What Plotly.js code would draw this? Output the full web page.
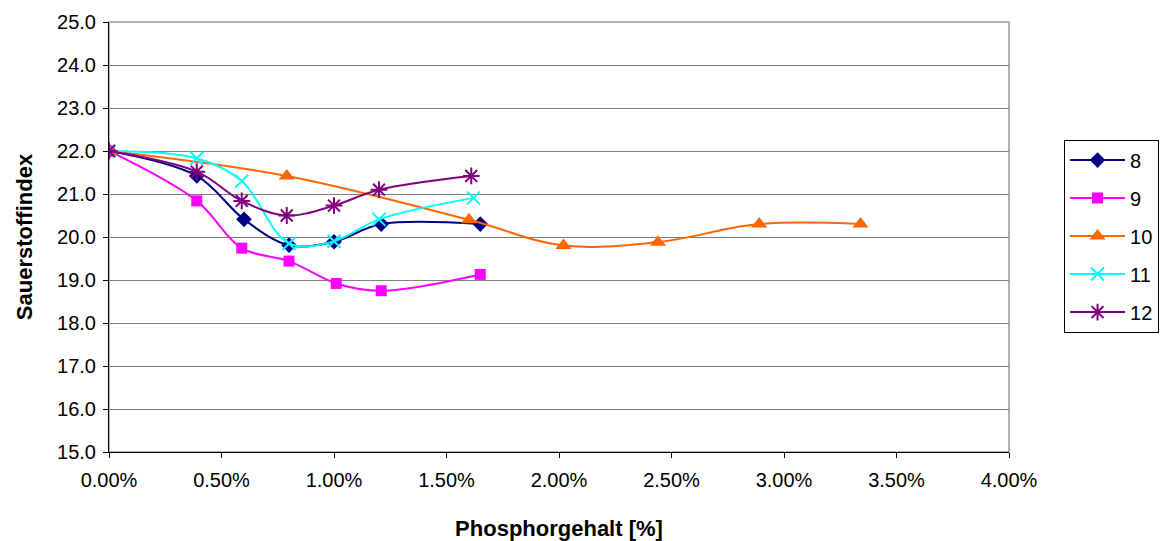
<!DOCTYPE html>
<html>
<head>
<meta charset="utf-8">
<script src="https://cdn.plot.ly/plotly-3.0.1.min.js"></script>
<style>html,body{margin:0;padding:0;background:#fff;}#chart{width:1168px;height:541px;}</style>
</head>
<body>
<div id="chart"></div>
<script>
// Phosphorgehalt [%] and Sauerstoffindex for each series
const seriesNames = ["8", "9", "10", "11", "12"];
const x8  = [0, 0.39, 0.60, 0.80, 1.00, 1.21, 1.65];
const y8  = [22.0, 21.42, 20.41, 19.81, 19.89, 20.30, 20.30];
const x9  = [0, 0.39, 0.59, 0.80, 1.01, 1.21, 1.65];
const y9  = [22.0, 20.84, 19.74, 19.44, 18.92, 18.75, 19.13];
const x10 = [0, 0.79, 1.60, 2.02, 2.44, 2.89, 3.34];
const y10 = [22.0, 21.42, 20.40, 19.80, 19.88, 20.30, 20.30];
const x11 = [0, 0.39, 0.59, 0.80, 1.00, 1.20, 1.62];
const y11 = [22.0, 21.83, 21.30, 19.85, 19.90, 20.41, 20.91];
const x12 = [0, 0.39, 0.59, 0.79, 1.00, 1.20, 1.61];
const y12 = [22.0, 21.52, 20.84, 20.50, 20.73, 21.10, 21.42];
const xTickVals = [0, 0.5, 1, 1.5, 2, 2.5, 3, 3.5, 4];
const xTickText = ["0.00%", "0.50%", "1.00%", "1.50%", "2.00%", "2.50%", "3.00%", "3.50%", "4.00%"];

const font = "Liberation Sans, Arial, sans-serif";
const xs = [x8, x9, x10, x11, x12];
const ys = [y8, y9, y10, y11, y12];
const colors = ["#000080", "#FF00FF", "#FF6600", "#00FFFF", "#800080"];
const markers = [
  {symbol: "diamond", size: 12},
  {symbol: "square", size: 11},
  {symbol: "triangle-up", size: 14},
  {symbol: "x-thin-open", size: 13, line: {width: 2}},
  {symbol: "asterisk-open", size: 14, line: {width: 2}}
];

const traces = seriesNames.map((n, i) => ({
  type: "scatter",
  mode: "lines+markers",
  name: n,
  legendgroup: "g" + n,
  x: xs[i],
  y: ys[i],
  line: {color: colors[i], width: 2, shape: "spline", smoothing: 1},
  marker: Object.assign({color: colors[i]}, markers[i], markers[i].line ? {line: {color: colors[i], width: 2}} : {})
}));

const layout = {
  width: 1168,
  height: 541,
  margin: {l: 109, r: 159, t: 22, b: 89},
  paper_bgcolor: "#fff",
  plot_bgcolor: "#fff",
  font: {family: font, size: 20, color: "#000"},
  showlegend: true,
  legend: {
    xref: "container", yref: "container",
    x: 0.911, y: 0.742, xanchor: "left", yanchor: "top",
    bordercolor: "#000", borderwidth: 1,
    font: {family: font, size: 20, color: "#000"},
    tracegroupgap: 9,
    itemwidth: 55
  },
  xaxis: {
    range: [0, 4],
    tickvals: xTickVals,
    ticktext: xTickText,
    showgrid: false,
    zeroline: false,
    showline: true, linecolor: "#000", linewidth: 1,
    ticks: "outside", ticklen: 5, tickcolor: "#000",
    ticklabelstandoff: 5,
    tickfont: {family: font, size: 20},
    title: {text: "Phosphorgehalt [%]", font: {family: font, size: 22, weight: "bold"}, standoff: 32}
  },
  yaxis: {
    range: [15, 25],
    dtick: 1,
    tickformat: ".1f",
    showgrid: true, gridcolor: "#7f7f7f", gridwidth: 1,
    zeroline: false,
    showline: true, linecolor: "#000", linewidth: 1,
    ticks: "outside", ticklen: 5, tickcolor: "#000",
    ticklabelstandoff: 3,
    tickfont: {family: font, size: 20},
    title: {text: "Sauerstoffindex", font: {family: font, size: 22, weight: "bold"}, standoff: 18}
  },
  shapes: [{
    type: "rect", xref: "paper", yref: "paper", x0: 0, x1: 1, y0: 0, y1: 1,
    line: {color: "#999999", width: 1.5}, layer: "below"
  }]
};

Plotly.newPlot("chart", traces, layout, {displayModeBar: false, staticPlot: true});
</script>
</body>
</html>
